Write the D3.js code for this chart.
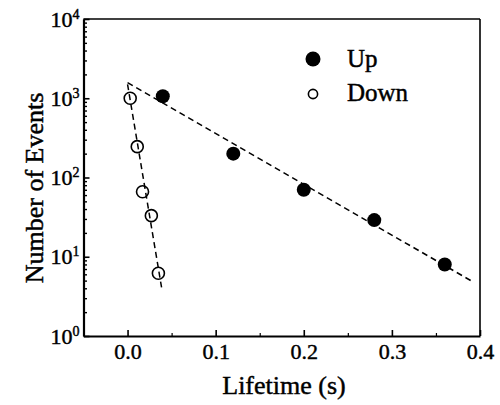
<!DOCTYPE html>
<html><head><meta charset="utf-8">
<script src="https://cdn.jsdelivr.net/npm/d3@7"></script>
<style>
body{margin:0;background:#fff}
</style>
</head><body>
<svg id="c" width="500" height="405"></svg>
<script>
// ---- data ----
const upX = [0.04, 0.12, 0.20, 0.28, 0.36];
const upY = [1060, 200, 70, 29, 8];
const downX = [0.003, 0.011, 0.017, 0.027, 0.035];
const downY = [1000, 245, 66, 33, 6.2];
const upFitX = [0.0, 0.391];
const upFitY = [1570, 4.9];
const downFitX = [0.0, 0.0386];
const downFitY = [1500, 4.1];
const xTicks = [0.0, 0.1, 0.2, 0.3, 0.4];
const xMinorTicks = [0.05, 0.15, 0.25, 0.35];
const yExponents = [0, 1, 2, 3, 4];
const legendLabels = ["Up", "Down"];
const xTitle = "Lifetime (s)";
const yTitle = "Number of Events";

const FONT = '"Liberation Serif", "Times New Roman", Times, serif';

// ---- layout ----
const L = 83.5, R = 480, T = 19, B = 336;
const svg = d3.select("#c").style("font-family", FONT);
const x = d3.scaleLinear().domain([-0.05, 0.4]).range([L, R]);
const y = d3.scaleLog().domain([1, 10000]).range([B, T]);

function ink(sel) {
  return sel.attr("fill", "#000").attr("stroke", "#000").attr("stroke-width", 0.45)
    .style("font-family", FONT);
}

// frame
svg.append("line").attr("x1", L).attr("x2", R).attr("y1", T).attr("y2", T).attr("stroke", "#000").attr("stroke-width", 1.6);
svg.append("line").attr("x1", R).attr("x2", R).attr("y1", T).attr("y2", B).attr("stroke", "#000").attr("stroke-width", 1.6);

// x axis
const xAx = svg.append("g").attr("transform", `translate(0,${B})`)
  .call(d3.axisBottom(x).tickValues(xTicks).tickFormat(d3.format(".1f"))
    .tickSizeInner(-6).tickSizeOuter(0).tickPadding(7));
xAx.attr("font-family", null).attr("font-size", null);
xAx.select(".domain").attr("stroke-width", 2.2);
xAx.selectAll(".tick line").attr("stroke-width", 1.6);
ink(xAx.selectAll("text").style("font-size", "22px"));
svg.append("g").attr("transform", `translate(0,${B})`)
  .call(d3.axisBottom(x).tickValues(xMinorTicks).tickFormat("").tickSizeInner(-3).tickSizeOuter(0))
  .call(g => g.select(".domain").remove())
  .selectAll(".tick line").attr("stroke-width", 1.2);

// y axis
const yMinor = [];
for (let e = 0; e < 4; e++) for (let k = 2; k <= 9; k++) yMinor.push(k * Math.pow(10, e));
svg.append("g").attr("transform", `translate(${L},0)`)
  .call(d3.axisLeft(y).tickValues(yMinor).tickFormat("").tickSizeInner(-3.5).tickSizeOuter(0))
  .call(g => g.select(".domain").remove())
  .selectAll(".tick line").attr("stroke-width", 1.4);
const yAx = svg.append("g").attr("transform", `translate(${L},0)`)
  .call(d3.axisLeft(y).tickValues(yExponents.map(e => Math.pow(10, e))).tickFormat("")
    .tickSizeInner(-6).tickSizeOuter(0).tickPadding(4));
yAx.attr("font-family", null).attr("font-size", null);
yAx.select(".domain").attr("stroke-width", 2.2);
yAx.selectAll(".tick line").attr("stroke-width", 1.6);
yAx.selectAll(".tick text").remove();
yAx.selectAll(".tick").each(function(d) {
  const t = ink(d3.select(this).append("text")
    .attr("x", -4).attr("dy", "0.32em").attr("text-anchor", "end")
    .style("font-size", "22px"));
  t.append("tspan").text("10");
  t.append("tspan").attr("dy", "-8").style("font-size", "14px").text(Math.round(Math.log10(d)));
});

// fit lines
const line = d3.line().x(d => x(d[0])).y(d => y(d[1]));
[[upFitX, upFitY], [downFitX, downFitY]].forEach(([fx, fy]) => {
  svg.append("path").datum(fx.map((v, i) => [v, fy[i]]))
    .attr("d", line).attr("fill", "none").attr("stroke", "#000")
    .attr("stroke-width", 1.5).attr("stroke-dasharray", "6,4");
});

// points
svg.append("g").selectAll("circle").data(upX.map((v, i) => [v, upY[i]])).join("circle")
  .attr("cx", d => x(d[0])).attr("cy", d => y(d[1])).attr("r", 7).attr("fill", "#000");
svg.append("g").selectAll("circle").data(downX.map((v, i) => [v, downY[i]])).join("circle")
  .attr("cx", d => x(d[0])).attr("cy", d => y(d[1])).attr("r", 6)
  .attr("fill", "none").attr("stroke", "#000").attr("stroke-width", 1.6);

// legend
const lg = svg.append("g");
lg.append("circle").attr("cx", 313).attr("cy", 59).attr("r", 7.5).attr("fill", "#000");
lg.append("circle").attr("cx", 313).attr("cy", 94).attr("r", 4.6).attr("fill", "none").attr("stroke", "#000").attr("stroke-width", 1.6);
ink(lg.selectAll("text").data(legendLabels).join("text")
  .attr("x", 347).attr("y", (d, i) => 67 + i * 34)
  .style("font-size", "25px")).text(d => d);

// titles
ink(svg.append("text").attr("x", 284).attr("y", 394).attr("text-anchor", "middle")
  .style("font-size", "26px")).text(xTitle);
ink(svg.append("text").attr("transform", "translate(43,188) rotate(-90)").attr("text-anchor", "middle")
  .style("font-size", "26px")).text(yTitle);
</script>
</body></html>
